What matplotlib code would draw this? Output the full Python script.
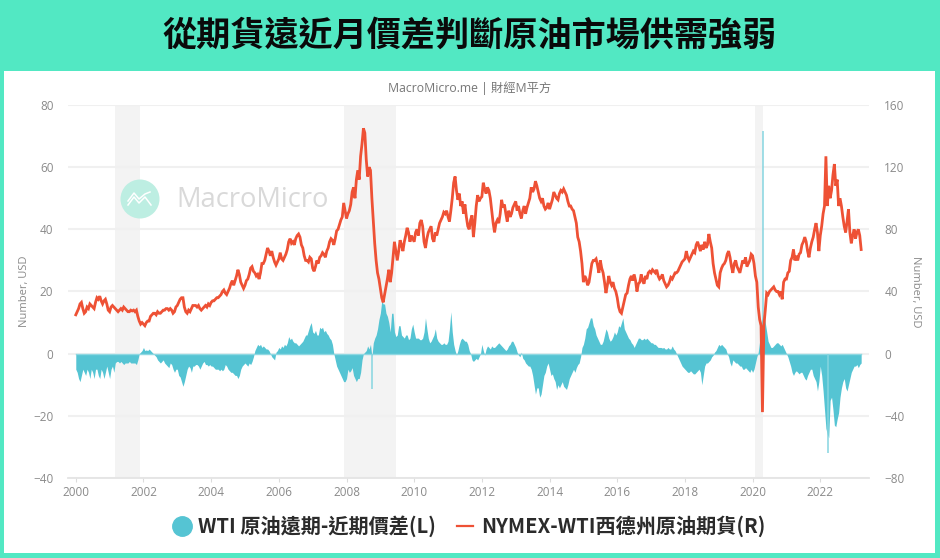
import numpy as np
import matplotlib
matplotlib.use('Agg')
import matplotlib.pyplot as plt
from matplotlib.lines import Line2D
from matplotlib.patches import Circle, Rectangle

plt.rcParams['font.family'] = ['Noto Sans CJK TC', 'DejaVu Sans']

# half-month readings, right axis (USD)
price = [
    25,27,29,32,33,29,26,27,30,29,32,31,30,29,33,36,35,37,34,32,34,35,32,28,
    27,30,31,30,29,28,27,28,29,28,30,29,28,27,27,28,27.5,28,27,28,24,21,19,20,
    19,18,20,21,21,24,25,26,26,25,27,26,26,27,28,28,29,29,28,29,28,26,27,30,
    31,33,35,36,36,30,27,26,28,27,29,31,31,31,30,31,29,28,29,30,31,30,32,31,
    33,34,34,35,36,36,37,38,40,41,39,38,40,42,45,47,44,47,50,54,51,46,44,42,
    44,47,48,51,55,56,53,52,50,51,48,52,58,58,60,64,68,66,63,66,62,59,57,59,
    61,65,61,60,62,64,67,72,74,71,72,70,74,76,77,75,70,68,63,60,60,59,62,61,
    55,53,56,60,58,62,63,65,64,62,66,68,72,74,73,70,74,79,80,83,86,88,97,92,
    87,90,92,96,104,107,100,112,118,112,127,135,145,142,125,114,120,118,100,85,71,60,52,48,
    42,36,33,38,43,48,54,46,52,62,72,66,60,66,73,70,66,72,76,81,78,72,76,74,
    72,78,80,76,84,86,82,72,68,74,78,80,82,74,72,78,76,80,84,86,88,91,90,92,
    88,85,92,100,110,114,105,99,103,95,98,90,96,88,82,80,86,89,75,84,95,102,98,100,
    101,110,106,103,107,105,100,92,84,78,84,86,84,90,99,94,96,90,85,92,88,90,94,96,
    98,92,95,90,87,92,95,90,94,97,100,107,104,106,111,108,104,100,98,100,95,93,94,97,
    93,96,99,104,102,100,99,103,105,104,106,104,102,98,95,95,93,92,88,84,75,72,66,58,
    46,50,48,44,46,52,58,60,60,61,57,52,60,55,52,46,39,44,50,46,44,46,42,40,
    36,30,27,26,30,34,38,39,44,48,50,47,51,47,40,45,46,51,47,45,50,48,52,53,
    52,54,53,52,54,50,48,49,51,47,45,43,44,46,49,48,50,52,52,53,55,57,59,60,
    61,66,62,60,62,64,66,65,70,72,69,66,70,67,72,68,70,77,72,68,58,52,48,44,
    43,52,55,57,58,60,64,66,62,56,52,58,60,56,54,52,56,60,58,62,56,58,60,64,
    63,58,50,46,30,22,18,-37.6,18,28,39,38,40,41,42,43,41,40,40,38,40,35,46,48,
    48,52,53,60,62,67,60,63,60,64,65,70,72,75,72,66,62,68,72,75,80,84,78,66,
    76,82,90,95,127,95,108,100,105,115,122,108,112,95,100,95,88,82,78,85,93,78,71,76,
    80,74,78,80,76,67,
]

# half-month readings, left axis
spread = [
    -5,-6,-8,-9,-7,-5,-6,-7,-5,-6,-8,-5,-6,-8,-5,-5,-7,-8,-5,-6,-8,-6,-4,-6,
    -8,-5,-4,-6,-3,-2.5,-2.5,-3,-2.5,-3,-3.5,-3,-3,-3,-2.5,-3,-3,-3,-3,-3.5,-2,0,0.5,1,
    2,1,1.2,1,1.5,1,0.5,0,-0.5,-1,-2,-2.5,-3,-2.5,-2,-3,-3.5,-4,-4.5,-3,-3.5,-5,-6,-5,
    -5,-7,-7.5,-9,-10.5,-9,-7,-5,-4,-4.5,-6,-4,-4,-3.5,-3.5,-4,-5,-4,-3,-2.5,-3.5,-3.5,-4,-3.5,
    -4,-4,-4.5,-5,-5,-5,-5.5,-5,-5.5,-5,-3.5,-4,-5,-5.5,-6,-6,-6.5,-7,-7,-8,-7,-5,-4,-3.5,
    -3,-3.5,-4,-3,-3.5,-2.5,-1,1,2,3,2.5,3,2,2.5,2,1.5,1.5,1,0,-1,-1.5,-2,0.5,1,
    2,1.5,2.5,2,3,2.5,3.5,5.5,4.5,5,4,3.5,3.5,3,2.5,3,3.5,4,5,6,6,7.5,9,10,
    7,6.5,7.5,6,6,8.5,8,8.5,7,7.5,6.5,6,5,4.5,3,0,-2,-4,-5,-6,-7,-8,-9,-9,
    -8,-5,-6,-5.5,-4.5,-7,-8,-9,-8,-8,-6,-2,0,0.5,1,2.5,1.5,3,-1,3.5,5,6,8,11,
    13,17,16,16,13,12,10,7,13,13,7,5.5,6,9,9,6,5.5,5,6,6,4.5,5,8,9.5,
    7,5,5,5,4.5,4.5,5,7,11.5,8,5,3.5,4,5,6,8,5,4,3.5,3,3,3.5,3,3,
    4,8,13.5,7,3,1,-0.5,1,3,4.5,5,4.5,4,4,3,1,0,-2,-2.5,-2,-1.5,-2,-1,0,
    3,1,-0.5,1.5,2.5,2,1.5,2.5,2,2,2.5,3,3.5,3,2.5,2,1.5,1,1.5,2.5,3,4,4,3,
    2,0.5,-0.5,-1,0.5,-1.5,-2,-3,-3.5,-4,-4,-5,-7,-10,-13,-11,-11,-14,-13,-10,-7,-6,-4,-3,
    -5,-7,-6.5,-8,-9,-11.5,-10,-11,-10,-9,-10.5,-11,-11.5,-10,-8,-7,-6,-5,-6,-4.5,-3.5,-3,-1,2,
    3,5,8,8.5,10,11.5,11.5,9,8,6,5,4,3,3,4,6,8,7,5,4,4.5,5.5,7,6,
    7,9,8.5,10,11.5,8,7,6,5,4.5,3.5,3,2,3,4,5,5,4.5,4.5,5,4.5,5,4.5,4,
    3.5,3.5,3,3,2.5,2,2,2,1.8,2,1.5,1.5,2,1.5,1.5,2.5,1.5,1,0,-1,-2,-3,-4,-4.5,
    -5,-5.5,-6,-6,-5.5,-6,-6.5,-6.5,-6,-5.5,-5,-6,-10,-7,-4,-3,-3,-2.5,-2,-1,-0.5,0.5,1,2,
    3,2.5,3,2.5,2,1.5,0,-1,-3,-4,-2,-2.5,-3,-3,-3.5,-4,-4,-5,-5,-4.5,-5,-5.5,-6,-5,
    -6,-5,-3,-1,0.5,4,10,12,13,10,7,4,3,2,2,2.5,3,3.5,3.5,3,2.5,3,2,1,
    0,-1,-2.5,-4,-6,-7,-6,-5.5,-6,-6.5,-6,-6,-7,-8,-8.5,-7,-6,-5,-5,-7,-8,-9,-12,-9,
    -4,-7,-12,-18,-24,-26,-27,-15,-14,-18,-23,-23.5,-21,-19,-14,-11,-9,-8,-11,-12,-10,-8,-6,-5,
    -4,-4,-3.5,-4.5,-3.5,-3,
]

# single-day extremes of the spread
spike_years = [2008.76, 2020.31, 2022.22]
spike_values = [-11.5, 71.5, -32]

recessions = [(2001.16, 2001.9), (2007.93, 2009.46), (2020.07, 2020.32)]
year_ticks = list(range(2000, 2024, 2))
left_ticks = [-40, -20, 0, 20, 40, 60, 80]
right_ticks = [-80, -40, 0, 40, 80, 120, 160]

TEAL = '#52E8C3'
RED = '#EE5135'
BLUE = '#55C4D3'
GREY = '#8a8a8a'
W, H = 940, 558

years = 2000 + np.arange(len(price)) / 24

fig = plt.figure(figsize=(W / 100, H / 100), dpi=100, facecolor=TEAL)
fig.patches.append(Rectangle((4 / W, 1 - 553 / H), 931 / W, 482 / H, transform=fig.transFigure,
                             facecolor='white', edgecolor='none', zorder=-5))

ax = fig.add_axes([68 / W, 1 - 478 / H, 801 / W, 373 / H], facecolor='none')
ax.set_xlim(1999.77, 2023.44)
ax.set_ylim(-40, 80)
for start, end in recessions:
    ax.axvspan(start, end, color='#f3f3f3', lw=0, zorder=0)
ax.set_yticks(left_ticks)
ax.set_xticks(year_ticks)
ax.grid(axis='y', color='#f0f0f0', lw=1.5, zorder=1)
ax.set_axisbelow(True)

ax.fill_between(years, 0, spread, color=BLUE, lw=0, zorder=2)
ax.plot([years[0], years[-1]], [0, 0], color='#8ed8e2', lw=1, zorder=2)
ax.vlines(spike_years, 0, spike_values, color='#86d5e0', lw=1.1, zorder=2)

for s in ['top', 'left', 'right']:
    ax.spines[s].set_visible(False)
ax.spines['bottom'].set_color('#e4e4e4')
ax.spines['bottom'].set_linewidth(1.3)
ax.tick_params(axis='y', length=0, labelsize=8.5, labelcolor=GREY, pad=10.5)
ax.tick_params(axis='x', length=3, color='#dcdcdc', labelsize=8.5, labelcolor=GREY, pad=3)
for lab in ax.get_xticklabels() + ax.get_yticklabels():
    lab.set_family('Open Sans')
ax.set_ylabel('Number, USD', fontsize=8, color=GREY, family='Open Sans')
ax.yaxis.set_label_coords(-0.048, 0.5)

ax2 = ax.twinx()
ax2.set_ylim(-80, 160)
ax2.set_yticks(right_ticks)
ax2.plot(years, price, color=RED, lw=2.0, solid_joinstyle='miter')
for s in ax2.spines.values():
    s.set_visible(False)
ax2.tick_params(axis='y', length=0, labelsize=8.5, labelcolor=GREY, pad=11)
for lab in ax2.get_yticklabels():
    lab.set_family('Open Sans')
ax2.set_ylabel('Number, USD', fontsize=8, color=GREY, family='Open Sans', rotation=270, va='center')
ax2.yaxis.set_label_coords(1.058, 0.5)

# title and source
fig.text(470 / W, 1 - 35 / H, '從期貨遠近月價差判斷原油市場供需強弱', fontsize=24.6, fontweight='bold',
         color='#0a0a0a', ha='center', va='center')
fig.text(470 / W, 1 - 88 / H, 'MacroMicro.me | 財經M平方', fontsize=8.8, color='#777777', ha='center', va='center',
         family=['Open Sans', 'Noto Sans CJK TC'])

# watermark
fig.patches.append(Circle((140, H - 199), 19.5, transform=None, facecolor='#bdeee2', edgecolor='none', zorder=3))
fig.add_artist(Line2D([128, 134, 139, 145, 151], [H - 205, H - 197, H - 203, H - 197, H - 205],
                      transform=None, color='white', lw=1.1, zorder=4))
fig.add_artist(Line2D([128, 134, 139, 145, 150], [H - 201, H - 193, H - 199, H - 194, H - 192],
                      transform=None, color='white', lw=1.1, zorder=4))
fig.text(176 / W, 1 - 200 / H, 'MacroMicro', fontsize=19.7, color='#d9d9d9', family='Open Sans', ha='left', va='center')

handles = [
    Line2D([], [], color='none', marker='o', markerfacecolor=BLUE, markeredgecolor=BLUE, markersize=14),
    Line2D([], [], color=RED, lw=1.6),
]
fig.legend(handles, ['WTI 原油遠期-近期價差(L)', 'NYMEX-WTI西德州原油期貨(R)'], ncol=2, frameon=False,
           loc='center', bbox_to_anchor=(470 / W, 1 - 526 / H), handlelength=0.8, handletextpad=0.4,
           columnspacing=1.05, prop={'family': ['Noto Sans CJK TC', 'DejaVu Sans'], 'size': 14.5, 'weight': 'bold'},
           labelcolor='#2b2b2b')

fig.savefig('out.png', dpi=100, facecolor=fig.get_facecolor())
